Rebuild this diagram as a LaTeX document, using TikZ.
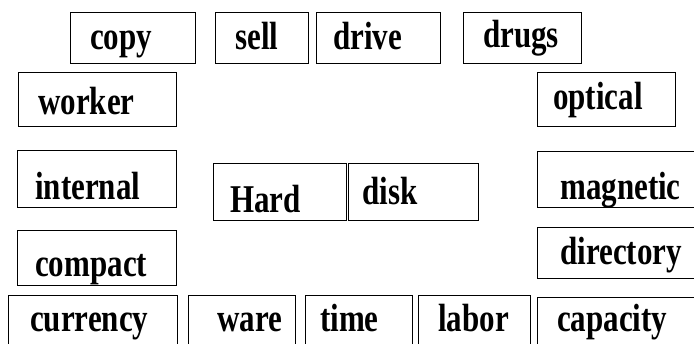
\documentclass[tikz,border=0pt]{standalone}
\usepackage{fontspec}
\usepackage{graphicx}
\setmainfont{Liberation Serif}
\tikzset{
  wordbox/.style={draw=black, line width=1.3pt, rectangle, inner sep=0pt},
  word/.style={anchor=base west, inner sep=0pt, font=\fontsize{31}{36}\selectfont\bfseries}
}
% box: name, x1, y1, x2, y2, text x, baseline, text
\newcommand{\wbox}[8]{%
  \node[wordbox, minimum width={#4-#2}, minimum height={#5-#3}, anchor=north west]
    (#1) at (#2,#3) {};
  \node[word] (#1-t) at (#6,#7) {\scalebox{1}[1.27]{#8}};
}
\begin{document}
\begin{tikzpicture}[x=1pt,y=-1pt]
  \useasboundingbox (0,0) rectangle (694,344);
  \fill[white] (0,0) rectangle (694,344);
  \begin{scope}
  \clip (0,0) rectangle (694,344);
  % top row
  \wbox{copy}{70}{12}{195}{63}{90}{50}{copy}
  \wbox{sell}{215}{12}{308}{63}{235}{50}{sell}
  \wbox{drive}{316}{12}{440}{63}{333}{50}{drive}
  \wbox{drugs}{463}{12}{581}{63}{483}{48}{drugs}
  % left and right columns
  \wbox{worker}{18}{72}{176}{126}{38}{115}{worker}
  \wbox{optical}{537}{72}{675}{126}{553}{110}{optical}
  \wbox{internal}{17}{150}{176}{207}{35}{200}{internal}
  \wbox{magnetic}{537}{151}{702}{207}{560}{200}{magnetic}
  \wbox{compact}{17}{230}{176}{285}{35}{277}{compact}
  \wbox{directory}{537}{227}{702}{278}{560}{265}{directory}
  % centre pair
  \wbox{hard}{213}{163}{346}{220}{230}{213}{Hard}
  \wbox{disk}{348}{163}{478}{220}{362}{205}{disk}
  % bottom row
  \wbox{currency}{8}{295}{177}{352}{30}{332}{currency}
  \wbox{ware}{188}{295}{295}{352}{217}{332}{ware}
  \wbox{time}{305}{295}{412}{352}{320}{332}{time}
  \wbox{labor}{418}{295}{530}{352}{438}{332}{labor}
  \wbox{capacity}{537}{297}{702}{352}{557}{332}{capacity}
  \end{scope}
\end{tikzpicture}
\end{document}
